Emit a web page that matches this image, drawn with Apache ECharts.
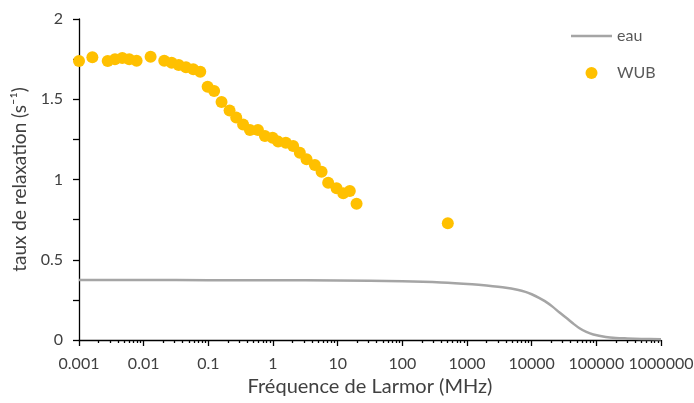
<!DOCTYPE html>
<html>
<head>
<meta charset="utf-8">
<script src="https://cdn.jsdelivr.net/npm/echarts@6/dist/echarts.min.js"></script>
<style>
html,body{margin:0;padding:0;background:#fff;}
#chart{width:694px;height:403px;}
</style>
</head>
<body>
<div id="chart"></div>
<script>
// ---- data ----
const wubFreq = [0.001, 0.00161, 0.00278, 0.0036, 0.00467, 0.00598, 0.00778, 0.0128, 0.0208, 0.0271,
  0.0348, 0.0451, 0.0585, 0.075, 0.0975, 0.123, 0.160, 0.213, 0.270, 0.345,
  0.440, 0.585, 0.750, 0.986, 1.20, 1.58, 2.05, 2.60, 3.30, 4.44,
  5.64, 7.13, 9.62, 12.2, 15.4, 19.6, 505];
const wubRate = [1.739, 1.761, 1.739, 1.749, 1.757, 1.749, 1.740, 1.765, 1.740, 1.728,
  1.713, 1.699, 1.687, 1.672, 1.578, 1.551, 1.483, 1.430, 1.386, 1.343,
  1.308, 1.308, 1.271, 1.260, 1.236, 1.229, 1.209, 1.167, 1.126, 1.090,
  1.049, 0.980, 0.945, 0.914, 0.928, 0.849, 0.727];
const eauFreq = [0.001, 0.01, 0.1, 1, 10, 100, 400, 1200, 2000, 4000, 6000, 8000, 10000, 13000, 16000, 21000,
  27000, 35000, 45000, 55000, 70000, 90000, 140000, 200000, 300000, 500000, 1000000];
const eauRate = [0.374, 0.374, 0.373, 0.372, 0.371, 0.366, 0.359, 0.348, 0.340, 0.326, 0.313, 0.300, 0.285, 0.263, 0.242, 0.208,
  0.171, 0.135, 0.099, 0.073, 0.050, 0.034, 0.019, 0.013, 0.010, 0.007, 0.005];
const xTickLabels = ['0.001', '0.01', '0.1', '1', '10', '100', '1000', '10000', '100000', '1000000'];
const yTickLabels = ['0', '0.5', '1', '1.5', '2'];
const seriesNames = ['eau', 'WUB'];
const xTitle = 'Fréquence de Larmor (MHz)';
const yTitle = 'taux de relaxation (s\u207B\u00B9)';

// minor tick positions (2..9 in each decade)
const xMinorTicks = [];
for (let e = -3; e < 6; e++) {
  for (let m = 2; m <= 9; m++) xMinorTicks.push(Number((m * Math.pow(10, e)).toPrecision(3)));
}

const FONT = 'Lato';
const TXT = '#404040';

const chart = echarts.init(document.getElementById('chart'));
chart.setOption({
  animation: false,
  backgroundColor: '#fff',
  grid: { left: 79, right: 33, top: 19, bottom: 63, outerBoundsMode: 'none' },
  legend: {
    orient: 'vertical',
    left: 566,
    top: 23,
    itemWidth: 41,
    itemHeight: 12,
    itemGap: 21,
    textStyle: { fontFamily: FONT, fontSize: 16, color: '#595959' },
    data: [
      { name: seriesNames[0], icon: 'path://M0,0 H41 V2.5 H0 Z' },
      { name: seriesNames[1], icon: 'circle' }
    ]
  },
  xAxis: [
    {
      type: 'log',
      logBase: 10,
      min: 0.001,
      max: 1000000,
      interval: 1,
      name: xTitle,
      nameLocation: 'middle',
      nameGap: 36,
      nameTextStyle: { fontFamily: FONT, fontSize: 20, color: TXT },
      axisLine: { show: true, onZero: false, lineStyle: { color: '#000', width: 1.3 } },
      axisTick: { show: true, inside: false, length: 6, lineStyle: { color: '#000', width: 1.3 } },
      axisLabel: {
        margin: 16,
        fontFamily: FONT, fontSize: 16, color: TXT,
        formatter: function (v) {
          const i = Math.round(Math.log10(v)) + 3;
          return xTickLabels[i] !== undefined ? xTickLabels[i] : '';
        }
      },
      splitLine: { show: false },
      minorTick: { show: false }
    },
    {
      type: 'log',
      logBase: 10,
      min: 0.001,
      max: 1000000,
      position: 'bottom',
      gridIndex: 0,
      axisLine: { show: false, onZero: false },
      axisTick: { show: true, inside: false, length: 3, customValues: xMinorTicks, lineStyle: { color: '#000', width: 1.3 } },
      axisLabel: { show: false },
      splitLine: { show: false }
    }
  ],
  yAxis: {
    type: 'value',
    min: 0,
    max: 2,
    interval: 0.25,
    name: yTitle,
    nameLocation: 'middle',
    nameGap: 46,
    nameTextStyle: { fontFamily: FONT, fontSize: 19, color: TXT },
    axisLine: { show: true, lineStyle: { color: '#000', width: 1.3 } },
    axisTick: { show: true, inside: false, length: 6, lineStyle: { color: '#000', width: 1.3 } },
    axisLabel: {
      margin: 16,
      fontFamily: FONT, fontSize: 16, color: TXT,
      formatter: function (v) {
        const k = Math.round(v * 2);
        return Math.abs(v * 2 - k) < 1e-6 ? yTickLabels[k] : '';
      }
    },
    splitLine: { show: false }
  },
  series: [
    {
      name: seriesNames[0],
      type: 'line',
      xAxisIndex: 0,
      data: eauFreq.map((f, i) => [f, eauRate[i]]),
      symbol: 'none',
      smooth: 0.3,
      lineStyle: { color: '#A5A5A5', width: 2.5 },
      itemStyle: { color: '#A5A5A5' },
      z: 2
    },
    {
      name: seriesNames[1],
      type: 'scatter',
      xAxisIndex: 0,
      data: wubFreq.map((f, i) => [f, wubRate[i]]),
      symbol: 'circle',
      symbolSize: 12,
      itemStyle: { color: '#FFC000', opacity: 1 },
      z: 3
    }
  ]
});
</script>
</body>
</html>
